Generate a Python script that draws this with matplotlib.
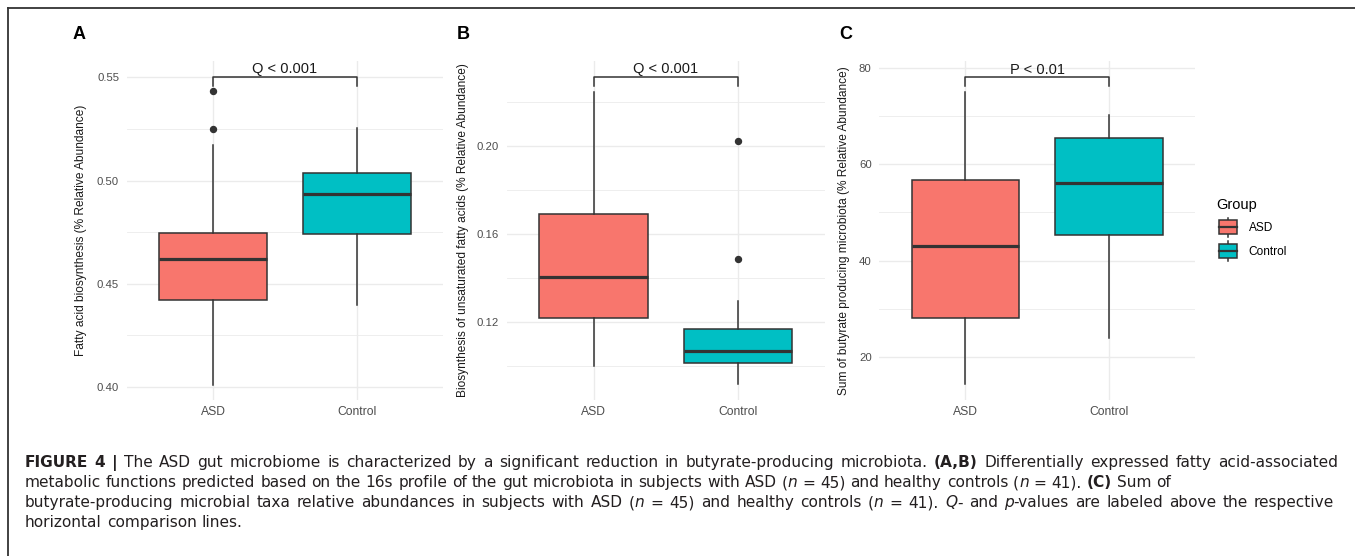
import matplotlib
matplotlib.use("Agg")
import matplotlib.pyplot as plt
from matplotlib.lines import Line2D
from matplotlib.patches import Rectangle, Patch
from matplotlib.legend_handler import HandlerBase
from matplotlib import font_manager

# ---- data ----
groups = ["ASD", "Control"]
colors = ["#F8766D", "#00BFC4"]

# A: fatty acid biosynthesis
a_lo = [0.401, 0.4395]
a_q1 = [0.442, 0.474]
a_med = [0.462, 0.4935]
a_q3 = [0.4745, 0.5035]
a_hi = [0.517, 0.5257]
a_out = [[0.5252, 0.5432], []]
a_sig = (0.5503, 0.546, "Q < 0.001")

# B: biosynthesis of unsaturated fatty acids
b_lo = [0.1003, 0.092]
b_q1 = [0.122, 0.1015]
b_med = [0.1403, 0.1071]
b_q3 = [0.169, 0.1171]
b_hi = [0.2245, 0.1295]
b_out = [[], [0.1486, 0.2023]]
b_sig = (0.2312, 0.2271, "Q < 0.001")

# C: sum of butyrate producing microbiota
c_lo = [14.4, 23.9]
c_q1 = [28.1, 45.4]
c_med = [43.0, 56.1]
c_q3 = [56.7, 65.5]
c_hi = [75.1, 70.2]
c_out = [[], []]
c_sig = (78.1, 76.3, "P < 0.01")


def has_font(name):
    try:
        font_manager.findfont(name, fallback_to_default=False)
        return True
    except Exception:
        return False


plot_font = "Liberation Sans" if has_font("Liberation Sans") else "DejaVu Sans"
cap_font = "DejaVu Sans"
plt.rcParams["font.family"] = plot_font

W, H = 1355, 556
fig = plt.figure(figsize=(W / 100, H / 100), dpi=100)


def px_axes(x0, x1, y0, y1):
    return fig.add_axes([x0 / W, 1 - y1 / H, (x1 - x0) / W, (y1 - y0) / H])


def draw_panel(ax, lo, q1, med, q3, hi, out, sig, ylim, major, minor, fmt, ylabel, label_x):
    stats = []
    for i in range(len(groups)):
        stats.append({"med": med[i], "q1": q1[i], "q3": q3[i],
                      "whislo": lo[i], "whishi": hi[i], "fliers": out[i]})
    bp = ax.bxp(stats, positions=[1, 2], widths=0.75, patch_artist=True, showcaps=False,
                boxprops=dict(edgecolor="#333333", linewidth=1.1),
                whiskerprops=dict(color="#333333", linewidth=1.1),
                medianprops=dict(color="#333333", linewidth=2.3, solid_capstyle="butt"),
                flierprops=dict(marker="o", markerfacecolor="#333333",
                                markeredgecolor="#333333", markersize=4.3))
    for box, c in zip(bp["boxes"], colors):
        box.set_facecolor(c)

    ax.set_xlim(0.4, 2.6)
    ax.set_ylim(*ylim)
    ax.set_yticks(major)
    ax.set_yticks(minor, minor=True)
    ax.set_yticklabels([fmt.format(v) for v in major])
    ax.set_xticks([1, 2])
    ax.set_xticklabels(groups)
    ax.set_axisbelow(True)
    ax.grid(True, which="major", color="#EBEBEB", linewidth=1.0)
    ax.grid(True, which="minor", axis="y", color="#EBEBEB", linewidth=0.6)
    for s in ax.spines.values():
        s.set_visible(False)
    ax.tick_params(axis="both", which="both", length=0)
    ax.tick_params(axis="y", pad=5.5, labelsize=8.2, labelcolor="#4D4D4D")
    ax.tick_params(axis="x", pad=4, labelsize=8.7, labelcolor="#4D4D4D")
    ax.set_ylabel(ylabel, fontsize=8.6, color="#1A1A1A")
    ax.yaxis.set_label_coords(label_x, 0.5)

    y, tip, txt = sig
    ax.plot([1, 1, 2, 2], [tip, y, y, tip], color="#333333", linewidth=1.1, clip_on=False)
    ax.annotate(txt, xy=(1.5, y), xytext=(0, 2.5), textcoords="offset points",
                ha="center", va="baseline", fontsize=10.5, color="#1A1A1A")


ax_a = px_axes(126.7, 443.3, 61, 400)
ax_b = px_axes(506.7, 825, 61, 400)
ax_c = px_axes(879.3, 1195, 61, 400)

draw_panel(ax_a, a_lo, a_q1, a_med, a_q3, a_hi, a_out, a_sig, (0.3935, 0.558),
           [0.40, 0.45, 0.50, 0.55], [0.425, 0.475, 0.525], "{:.2f}",
           "Fatty acid biosynthesis (% Relative Abundance)", -0.125)
draw_panel(ax_b, b_lo, b_q1, b_med, b_q3, b_hi, b_out, b_sig, (0.0847, 0.2384),
           [0.12, 0.16, 0.20], [0.10, 0.14, 0.18, 0.22], "{:.2f}",
           "Biosynthesis of unsaturated fatty acids (% Relative Abundance)", -0.118)
draw_panel(ax_c, c_lo, c_q1, c_med, c_q3, c_hi, c_out, c_sig, (11.05, 81.45),
           [20, 40, 60, 80], [30, 50, 70], "{:.0f}",
           "Sum of butyrate producing microbiota (% Relative Abundance)", -0.093)

# panel letters
for letter, x in [("A", 73), ("B", 457), ("C", 839)]:
    fig.text(x / W, 1 - 34.5 / H, letter, fontsize=13, fontweight="bold",
             ha="left", va="center", color="black")


# legend with small boxplot keys (sizes in points)
class BoxHandler(HandlerBase):
    def create_artists(self, legend, orig_handle, xdescent, ydescent, width, height, fontsize, trans):
        cx = -xdescent + width / 2
        cy = -ydescent + height / 2
        bw, bh, wh = 13.0, 10.0, 7.0
        box = Rectangle((cx - bw / 2, cy - bh / 2), bw, bh,
                        facecolor=orig_handle.get_facecolor(), edgecolor="#333333",
                        linewidth=1.1, transform=trans)
        whisk = Line2D([cx, cx], [cy - wh, cy + wh],
                       color="#333333", linewidth=1.1, transform=trans)
        mid = Line2D([cx - bw / 2, cx + bw / 2], [cy, cy],
                     color="#333333", linewidth=1.6, transform=trans)
        return [whisk, box, mid]


handles = [Patch(facecolor=c) for c in colors]
leg = fig.legend(handles, groups, handler_map={Patch: BoxHandler()},
                 loc="upper left", bbox_to_anchor=(1216 / W, 1 - 198 / H),
                 frameon=False, borderpad=0, borderaxespad=0, fontsize=8.6,
                 title="Group", title_fontsize=10.5, alignment="left",
                 handlelength=2.0, handleheight=1.74, labelspacing=0.6,
                 handletextpad=0.75)

# frame around the figure (top and left edges visible)
fig.add_artist(Line2D([8 / W, 1], [1 - 8 / H, 1 - 8 / H], color="#333333", linewidth=1.3))
fig.add_artist(Line2D([8 / W, 8 / W], [0, 1 - 8 / H], color="#333333", linewidth=1.3))

# caption with mixed styles
renderer = fig.canvas.get_renderer()
cap_size = 11.1
cap_color = "#231F20"


def make_text(piece, style):
    return fig.text(0, 0, piece, fontsize=cap_size, family=cap_font, color=cap_color,
                    fontweight="bold" if "b" in style else "normal",
                    fontstyle="italic" if "i" in style else "normal",
                    ha="left", va="baseline")


def width_of(t):
    return t.get_window_extent(renderer).width


def caption_line(runs, baseline, x_start=25, x_end=None):
    # split runs into words (a word may hold several styled pieces)
    words = [[]]
    for text, style in runs:
        parts = text.split(" ")
        for k, p in enumerate(parts):
            if k > 0:
                words.append([])
            if p:
                words[-1].append((p, style))
    words = [w for w in words if w]
    items = []
    total = 0
    for w in words:
        pieces = []
        for p, style in w:
            t = make_text(p, style)
            pieces.append((t, width_of(t)))
        wsum = sum(pw for _, pw in pieces)
        items.append((pieces, wsum))
        total += wsum
    a, b = make_text("x x", ""), make_text("xx", "")
    space = width_of(a) - width_of(b)
    a.remove()
    b.remove()
    if x_end is not None and len(items) > 1:
        space = (x_end - x_start - total) / (len(items) - 1)
    x = x_start
    for pieces, wsum in items:
        for t, pw in pieces:
            t.set_position((x / W, 1 - baseline / H))
            x += pw
        x += space


caption_line([("FIGURE 4 | ", "b"),
              ("The ASD gut microbiome is characterized by a significant reduction in "
               "butyrate-producing microbiota. ", ""),
              ("(A,B)", "b"),
              (" Differentially expressed fatty acid-associated", "")],
             467.3, x_end=1338)
caption_line([("metabolic functions predicted based on the 16s profile of the gut microbiota "
               "in subjects with ASD (", ""), ("n", "i"), (" = 45) and healthy controls (", ""),
              ("n", "i"), (" = 41). ", ""), ("(C)", "b"), (" Sum of", "")],
             487.3)
caption_line([("butyrate-producing microbial taxa relative abundances in subjects with ASD (", ""),
              ("n", "i"), (" = 45) and healthy controls (", ""), ("n", "i"), (" = 41). ", ""),
              ("Q", "i"), ("- and ", ""), ("p", "i"),
              ("-values are labeled above the respective", "")],
             507.3, x_end=1334)
caption_line([("horizontal comparison lines.", "")], 527.3)

fig.savefig("out.png", dpi=100)
